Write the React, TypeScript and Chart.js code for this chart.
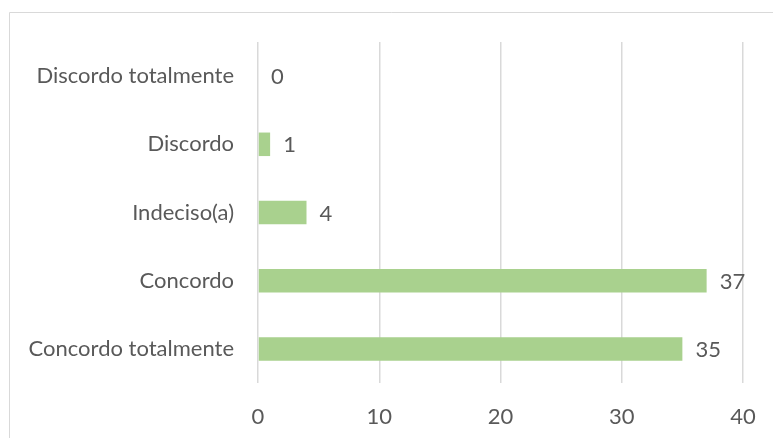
import React, { useEffect, useRef } from "react";
import { Chart, registerables } from "chart.js";

Chart.register(...registerables);

const categories = ["Discordo totalmente", "Discordo", "Indeciso(a)", "Concordo", "Concordo totalmente"];
const values = [0, 1, 4, 37, 35];
const xTicks = [0, 10, 20, 30, 40];

const FONT_FAMILY = "Lato, 'Open Sans', sans-serif";
const FONT_SIZE = 22;
const TEXT_COLOR = "#595959";
const BAR_COLOR = "#A9D18E";
const GRID_COLOR = "#D9D9D9";

const framePlugin = {
  id: "frame",
  beforeDraw(chart: any) {
    const ctx = chart.ctx;
    ctx.save();
    ctx.fillStyle = "#ffffff";
    ctx.fillRect(0, 0, chart.width, chart.height);
    ctx.strokeStyle = GRID_COLOR;
    ctx.lineWidth = 1;
    ctx.beginPath();
    ctx.moveTo(9.5, chart.height);
    ctx.lineTo(9.5, 12.5);
    ctx.lineTo(chart.width, 12.5);
    ctx.stroke();
    ctx.restore();
  },
};

const labelPlugin = {
  id: "barLabels",
  afterDatasetsDraw(chart: any) {
    const ctx = chart.ctx;
    const meta = chart.getDatasetMeta(0);
    ctx.save();
    ctx.font = `${FONT_SIZE}px ${FONT_FAMILY}`;
    ctx.fillStyle = TEXT_COLOR;
    ctx.textAlign = "left";
    ctx.textBaseline = "middle";
    meta.data.forEach((el: any, i: number) => {
      ctx.fillText(String(values[i]), el.x + 13, el.y + 1);
    });
    ctx.restore();
  },
};

export default function App() {
  const ref = useRef<HTMLCanvasElement>(null);
  useEffect(() => {
    if (!ref.current) return;
    const chart = new Chart(ref.current, {
      type: "bar",
      data: {
        labels: categories,
        datasets: [
          {
            data: values,
            backgroundColor: BAR_COLOR,
            barPercentage: 0.345,
            categoryPercentage: 1,
          },
        ],
      },
      options: {
        indexAxis: "y",
        responsive: false,
        animation: false,
        devicePixelRatio: 1,
        layout: { padding: { left: 0, top: 42, right: 30, bottom: 0 } },
        plugins: { legend: { display: false }, tooltip: { enabled: false } },
        scales: {
          x: {
            min: 0,
            max: 40,
            afterBuildTicks(scale: any) {
              scale.ticks = xTicks.map((v) => ({ value: v }));
            },
            afterFit(scale: any) {
              scale.height = 55;
              scale.paddingLeft = 0;
              scale.paddingRight = 0;
            },
            grid: { color: GRID_COLOR, lineWidth: 1.5, drawTicks: false },
            border: { display: false },
            ticks: {
              color: TEXT_COLOR,
              font: { family: FONT_FAMILY, size: FONT_SIZE },
              padding: 21,
            },
          },
          y: {
            afterFit(scale: any) {
              scale.width = 258;
            },
            grid: { display: false, drawTicks: false },
            border: { display: false },
            ticks: {
              color: TEXT_COLOR,
              font: { family: FONT_FAMILY, size: FONT_SIZE },
              padding: 24,
            },
          },
        },
      },
      plugins: [framePlugin, labelPlugin],
    });
    return () => chart.destroy();
  }, []);
  return (
    <canvas
      ref={ref}
      width={773}
      height={438}
      style={{ position: "fixed", left: 0, top: 0, width: 773, height: 438 }}
    />
  );
}
